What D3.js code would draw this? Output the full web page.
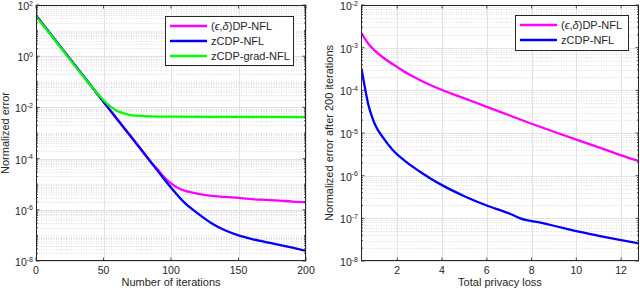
<!DOCTYPE html>
<html>
<head>
<meta charset="UTF-8">
<title>nfl-error</title>
<style>
  body { margin: 0; background: #fff; }
  svg text { font-family: "Liberation Sans", Arial, sans-serif; fill: #262626; }
</style>
</head>
<body>
<svg id="chart" width="640" height="292"></svg>
<script src="https://cdn.jsdelivr.net/npm/d3@7/dist/d3.min.js"></script>
<script>
// left panel: normalized error vs number of iterations
const iterDp = [0,10,20,30,40,50,60,70,80,85,90,95,100,105,110,115,120,130,140,150,160,170,180,190,200];
const errDp = [39,8.3,1.74,0.37,0.079,0.0166,3.5e-3,7.6e-4,1.62e-4,7.4e-5,3.8e-5,1.86e-5,1.07e-5,7.2e-6,5.6e-6,4.8e-6,4.2e-6,3.5e-6,3.2e-6,2.9e-6,2.6e-6,2.45e-6,2.3e-6,2.1e-6,2.0e-6];
const iterZ = [0,10,20,30,40,50,60,70,80,90,100,110,120,130,140,150,160,170,180,190,200];
const errZ = [39,8.3,1.74,0.37,0.079,0.0166,3.5e-3,7.6e-4,1.62e-4,3.4e-5,7.4e-6,1.9e-6,7.1e-7,3.0e-7,1.58e-7,1.0e-7,7.2e-8,5.5e-8,4.3e-8,3.3e-8,2.5e-8];
const iterGrad = [0,10,20,30,40,45,50,55,60,65,70,80,90,100,150,200];
const errGrad = [36,7.9,1.66,0.35,0.076,0.037,0.019,0.011,7.4e-3,5.8e-3,5.0e-3,4.6e-3,4.4e-3,4.35e-3,4.25e-3,4.15e-3];

// right panel: error after 200 iterations vs total privacy loss
const lossDp = [0.4,0.7,1.0,1.5,2.0,2.5,3.0,4.0,5.0,6.0,7.0,8.0,9.0,10.0,11.0,12.0,12.8];
const finalDp = [2.2e-3,1.25e-3,8.5e-4,5.2e-4,3.5e-4,2.4e-4,1.75e-4,1.02e-4,6.5e-5,4.1e-5,2.6e-5,1.65e-5,1.07e-5,7.0e-6,4.6e-6,3.0e-6,2.2e-6];
const lossZ = [0.4,0.55,0.7,0.85,1.0,1.35,1.8,2.4,3.0,3.5,4.0,5.0,6.0,7.0,7.5,8.5,9.0,10.0,11.0,12.0,12.8];
const finalZ = [3.2e-4,1.2e-4,4.8e-5,2.6e-5,1.6e-5,8.0e-6,4.0e-6,2.1e-6,1.25e-6,8.5e-7,6.0e-7,3.3e-7,2.0e-7,1.3e-7,1.0e-7,7.7e-8,6.7e-8,5.0e-8,3.9e-8,3.1e-8,2.6e-8];

const leftXTicks = [0,50,100,150,200];
const leftYExp = [2,0,-2,-4,-6,-8];
const rightXTicks = [2,4,6,8,10,12];
const rightYExp = [-2,-3,-4,-5,-6,-7,-8];

const magenta = "#ff00ff", blue = "#0000ff", green = "#00ff00";
const svg = d3.select("#chart");

function panel(o) {
  const x = d3.scaleLinear().domain(o.xDomain).range([o.x0, o.x1]);
  const y = d3.scaleLog().domain(o.yDomain).range([o.y1, o.y0]);
  const g = svg.append("g");
  const clipId = "clip" + o.id;
  g.append("clipPath").attr("id", clipId).append("rect")
    .attr("x", o.x0).attr("y", o.y0).attr("width", o.x1 - o.x0).attr("height", o.y1 - o.y0);

  // minor log grid
  const lo = Math.log10(o.yDomain[0]), hi = Math.log10(o.yDomain[1]);
  const minor = [];
  for (let e = lo; e < hi; e++) {
    for (let k = 1; k <= 9; k++) {
      const v = k * Math.pow(10, e);
      if (k === 1 && o.yExp.includes(e)) continue;
      minor.push(v);
    }
  }
  g.selectAll(".ymin").data(minor).enter().append("line")
    .attr("x1", o.x0).attr("x2", o.x1)
    .attr("y1", d => Math.round(y(d)) + 0.5).attr("y2", d => Math.round(y(d)) + 0.5)
    .attr("stroke", "#d6d6d6").attr("stroke-width", 0.8).attr("stroke-dasharray", "1,1.5");
  // major grid
  g.selectAll(".ymaj").data(o.yExp).enter().append("line")
    .attr("x1", o.x0).attr("x2", o.x1)
    .attr("y1", d => Math.round(y(Math.pow(10, d))) + 0.5).attr("y2", d => Math.round(y(Math.pow(10, d))) + 0.5)
    .attr("stroke", "#e2e2e2").attr("stroke-width", 1);
  g.selectAll(".xmaj").data(o.xTicks).enter().append("line")
    .attr("y1", o.y0).attr("y2", o.y1)
    .attr("x1", d => Math.round(x(d)) + 0.5).attr("x2", d => Math.round(x(d)) + 0.5)
    .attr("stroke", "#e2e2e2").attr("stroke-width", 1);

  // series
  const line = d3.line().x(d => x(d[0])).y(d => y(d[1])).curve(d3.curveMonotoneX);
  const lines = g.append("g").attr("clip-path", `url(#${clipId})`);
  o.series.forEach(s => {
    lines.append("path").datum(d3.zip(s.xs, s.ys))
      .attr("fill", "none").attr("stroke", s.color).attr("stroke-width", 2.3)
      .attr("stroke-linejoin", "round").attr("d", line);
  });

  // ticks (inward, both sides)
  const tk = g.append("g").attr("stroke", "#262626").attr("stroke-width", 0.8);
  minor.forEach(v => {
    const yy = y(v);
    tk.append("line").attr("x1", o.x0).attr("x2", o.x0 + 2).attr("y1", yy).attr("y2", yy);
    tk.append("line").attr("x1", o.x1).attr("x2", o.x1 - 2).attr("y1", yy).attr("y2", yy);
  });
  o.yExp.forEach(e => {
    const yy = y(Math.pow(10, e));
    tk.append("line").attr("x1", o.x0).attr("x2", o.x0 + 3.5).attr("y1", yy).attr("y2", yy);
    tk.append("line").attr("x1", o.x1).attr("x2", o.x1 - 3.5).attr("y1", yy).attr("y2", yy);
  });
  o.xTicks.forEach(t => {
    const xx = x(t);
    tk.append("line").attr("x1", xx).attr("x2", xx).attr("y1", o.y1).attr("y2", o.y1 - 3.5);
    tk.append("line").attr("x1", xx).attr("x2", xx).attr("y1", o.y0).attr("y2", o.y0 + 3.5);
  });

  // box
  g.append("rect").attr("x", o.x0 + 0.5).attr("y", o.y0 + 0.5)
    .attr("width", o.x1 - o.x0 - 1).attr("height", o.y1 - o.y0 - 1)
    .attr("fill", "none").attr("stroke", "#262626").attr("stroke-width", 1);

  // tick labels
  o.yExp.forEach(e => {
    const t = g.append("text").attr("x", o.x0 - 3).attr("y", y(Math.pow(10, e)) + 5)
      .attr("text-anchor", "end").attr("font-size", 10.5).text("10");
    t.append("tspan").attr("dy", -4.5).attr("font-size", 7).text(e);
  });
  g.selectAll(".xl").data(o.xTicks).enter().append("text")
    .attr("x", d => x(d)).attr("y", o.y1 + 12.5)
    .attr("text-anchor", "middle").attr("font-size", 10.5).text(d => d);

  // axis titles
  g.append("text").attr("x", (o.x0 + o.x1) / 2).attr("y", o.y1 + 25)
    .attr("text-anchor", "middle").attr("font-size", 11).text(o.xLabel);
  g.append("text").attr("transform", `translate(${o.yLabelX},${(o.y0 + o.y1) / 2}) rotate(-90)`)
    .attr("text-anchor", "middle").attr("font-size", 11).text(o.yLabel);

  // legend
  const L = o.legend;
  const lg = g.append("g");
  lg.append("rect").attr("x", L.x + 0.5).attr("y", L.y + 0.5).attr("width", L.w).attr("height", L.h)
    .attr("fill", "#fff").attr("stroke", "#262626").attr("stroke-width", 1);
  o.series.forEach((s, i) => {
    const yy = L.y + 10 + i * 15;
    lg.append("line").attr("x1", L.x + 5).attr("x2", L.x + 42).attr("y1", yy).attr("y2", yy)
      .attr("stroke", s.color).attr("stroke-width", 2.3);
    const t = lg.append("text").attr("x", L.x + 46).attr("y", yy + 4).attr("font-size", 11);
    if (s.dp) {
      t.append("tspan").text("(");
      t.append("tspan").attr("font-style", "italic").text("\u03f5");
      t.append("tspan").text(",");
      t.append("tspan").attr("font-style", "italic").text("\u03b4");
      t.append("tspan").text(")DP-NFL");
    } else {
      t.text(s.name);
    }
  });
}

panel({
  id: "L", x0: 36, x1: 306, y0: 5, y1: 261,
  xDomain: [0, 200], yDomain: [1e-8, 1e2],
  xTicks: leftXTicks, yExp: leftYExp,
  xLabel: "Number of iterations", yLabel: "Normalized error", yLabelX: 9,
  legend: { x: 165, y: 16, w: 128, h: 49 },
  series: [
    { dp: true, xs: iterDp, ys: errDp, color: magenta },
    { name: "zCDP-NFL", xs: iterZ, ys: errZ, color: blue },
    { name: "zCDP-grad-NFL", xs: iterGrad, ys: errGrad, color: green }
  ]
});

panel({
  id: "R", x0: 361, x1: 639, y0: 5, y1: 261,
  xDomain: [0.38, 12.8], yDomain: [1e-8, 1e-2],
  xTicks: rightXTicks, yExp: rightYExp,
  xLabel: "Total privacy loss", yLabel: "Normalized error after 200 iterations", yLabelX: 333,
  legend: { x: 515, y: 15, w: 113, h: 35 },
  series: [
    { dp: true, xs: lossDp, ys: finalDp, color: magenta },
    { name: "zCDP-NFL", xs: lossZ, ys: finalZ, color: blue }
  ]
});
</script>
</body>
</html>
